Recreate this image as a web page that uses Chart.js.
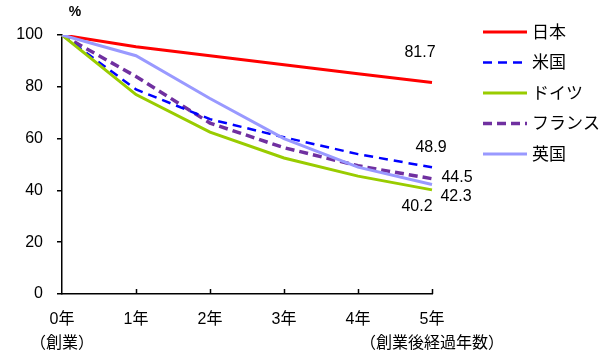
<!DOCTYPE html>
<html><head><meta charset="utf-8">
<script src="https://cdn.jsdelivr.net/npm/chart.js@4"></script>
<style>html,body{margin:0;padding:0;background:#fff}#wrap{width:600px;height:360px}</style>
</head><body><div id="wrap"><canvas id="c" width="600" height="360"></canvas></div>
<script>
const categories = [["0年","（創業）"], "1年", "2年", "3年", "4年", ["5年","（創業後経過年数）"]];
const seriesNames = ["日本", "米国", "ドイツ", "フランス", "英国"];
const japan   = [100, 95.5, 92.0, 88.5, 85.0, 81.7];
const usa     = [100, 79.0, 67.5, 60.5, 54.0, 48.9];
const germany = [100, 77.0, 62.5, 52.5, 45.5, 40.2];
const france  = [100, 84.0, 66.0, 56.5, 49.5, 44.5];
const uk      = [100, 92.0, 75.5, 60.0, 49.0, 42.3];
const yTicks  = [0, 20, 40, 60, 80, 100];
const colors  = ["#FF0000", "#0000FF", "#99CC00", "#7030A0", "#9999FF"];
const dashes  = [[], [9, 6], [], [9, 5], []];
const widths  = [3, 2.5, 3, 3.5, 3];
const labelOffsets = [[-12, -30], [-1, -20], [-15, 17], [25, -1], [24, 12]];
const seriesData = [japan, usa, germany, france, uk];
const FONT = "'Liberation Sans', 'Noto Sans CJK JP', sans-serif";

const datasets = seriesData.map((d, i) => ({
  label: seriesNames[i], data: d, borderColor: colors[i], backgroundColor: colors[i],
  borderWidth: widths[i], borderDash: dashes[i], pointRadius: 0, tension: 0, fill: false
}));
const order = [4, 2, 1, 3, 0];
datasets.forEach((ds, i) => { ds.order = order.indexOf(i); });

const extras = {
  id: 'extras',
  afterDatasetsDraw(chart) {
    const ctx = chart.ctx, x = chart.scales.x, y = chart.scales.y;
    ctx.save();
    ctx.strokeStyle = '#000'; ctx.lineWidth = 1.5;
    for (let i = 1; i < categories.length; i++) {
      const px = Math.round(x.getPixelForValue(i)) + 0.5;
      ctx.beginPath(); ctx.moveTo(px, y.bottom); ctx.lineTo(px, y.bottom - 5); ctx.stroke();
    }
    ctx.fillStyle = '#000'; ctx.font = "bold 14px " + FONT; ctx.textAlign = 'center'; ctx.textBaseline = 'middle';
    ctx.fillText('%', 75, 12);
    ctx.font = "16px " + FONT;
    seriesData.forEach((d, i) => {
      const last = d.length - 1;
      const px = x.getPixelForValue(last), py = y.getPixelForValue(d[last]);
      ctx.fillText(d[last].toFixed(1), px + labelOffsets[i][0], py + labelOffsets[i][1]);
    });
    ctx.textAlign = 'left';
    ctx.font = "17px " + FONT;
    seriesNames.forEach((n, i) => {
      const ly = 32 + i * 30.5;
      ctx.strokeStyle = colors[i]; ctx.lineWidth = widths[i]; ctx.setLineDash(dashes[i]);
      ctx.beginPath(); ctx.moveTo(483, ly); ctx.lineTo(527, ly); ctx.stroke();
      ctx.setLineDash([]);
      ctx.fillStyle = '#000';
      ctx.fillText(n, 532, ly + 1);
    });
    ctx.restore();
  }
};

new Chart(document.getElementById('c'), {
  type: 'line',
  data: { labels: categories, datasets },
  options: {
    responsive: false, animation: false,
    layout: { padding: { top: 35, right: 168, left: 0, bottom: 0 } },
    plugins: { legend: { display: false }, tooltip: { enabled: false } },
    scales: {
      x: {
        offset: false,
        afterFit(s) { s.height = 66; },
        grid: { display: true, drawOnChartArea: false, drawTicks: false },
        border: { display: true, color: '#000', width: 1.5 },
        ticks: { color: '#000', font: { family: FONT, size: 16, lineHeight: 1.5 }, padding: 14, maxRotation: 0, autoSkip: false }
      },
      y: {
        min: 0, max: 100,
        afterFit(s) { s.width = 62; },
        afterBuildTicks(s) { s.ticks = yTicks.map(v => ({ value: v })); },
        grid: { display: true, drawOnChartArea: false, drawTicks: true, tickLength: 5, color: '#000', lineWidth: 1.5 },
        border: { display: true, color: '#000', width: 1.5 },
        ticks: { color: '#000', font: { family: FONT, size: 16 }, padding: 14 }
      }
    }
  },
  plugins: [extras]
});
</script></body></html>
